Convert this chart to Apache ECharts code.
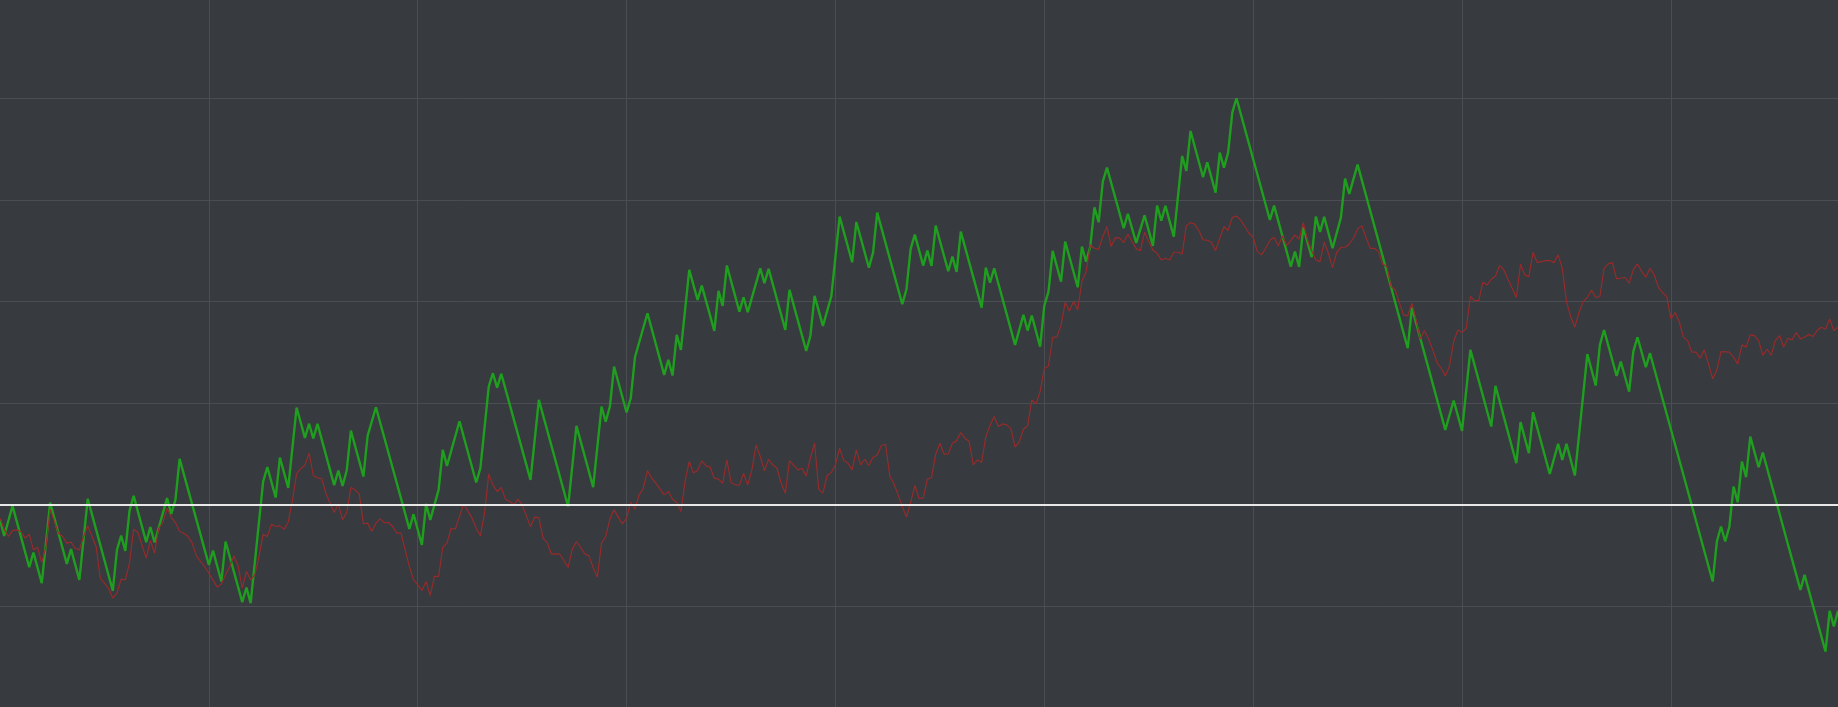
<!DOCTYPE html>
<html>
<head>
<meta charset="utf-8">
<style>
html,body{margin:0;padding:0;background:#373a3e;overflow:hidden;width:1838px;height:707px;position:relative;}
#chart{position:absolute;left:0;top:-3px;width:1838px;height:711px;}
</style>
<script src="https://cdn.jsdelivr.net/npm/echarts@6/dist/echarts.min.js"></script>
</head>
<body>
<div id="chart"></div>
<script>
// x ticks every 50 steps, y ticks every 10 units; baseline at 0
var xTickStep = 50;
var yTickStep = 10;
var baselineValue = 0;

// Green series: vertices (step index, value)
var greenIdx = [0,1,3,7,8,10,12,16,17,19,21,27,28,29,30,31,32,35,36,37,40,41,42,43,50,51,53,54,58,59,60,63,64,66,67,69,71,73,74,75,76,80,81,82,83,84,87,88,90,98,99,101,102,103,105,106,107,110,114,115,117,118,119,120,127,129,136,138,142,144,145,146,147,150,151,152,155,159,160,161,162,163,165,167,168,171,172,173,174,177,178,179,182,183,184,188,189,193,194,195,197,199,201,204,205,208,209,210,216,217,218,219,221,222,223,224,227,228,229,230,235,236,237,238,243,245,246,247,249,250,251,252,254,255,258,259,260,261,262,263,264,265,269,270,272,274,276,277,278,279,281,283,284,285,288,289,291,292,293,294,295,296,304,305,309,310,311,312,314,315,316,317,319,321,322,323,325,337,338,346,348,350,352,357,358,363,364,366,367,371,373,374,375,377,380,382,383,384,387,388,390,391,392,394,395,410,411,412,413,414,415,416,417,418,419,421,422,431,432,437,438,439,440];
var greenVal = [-1.48,-3.05,-0.10,-6.13,-4.69,-7.71,0.23,-5.81,-4.36,-7.38,0.59,-8.46,-4.43,-3.02,-4.53,-0.59,0.89,-3.67,-2.19,-3.71,0.66,-0.89,0.49,4.53,-5.91,-4.50,-7.55,-3.61,-9.58,-8.14,-9.68,2.30,3.71,0.72,4.66,1.67,9.58,6.59,7.99,6.53,7.97,1.94,3.38,1.87,3.38,7.31,2.79,6.79,9.61,-2.36,-0.92,-3.94,0.10,-1.48,1.48,5.41,3.84,8.23,2.20,3.61,11.65,12.96,11.55,12.89,2.46,10.33,-0.16,7.78,1.74,9.68,8.20,9.68,13.62,9.09,10.50,14.53,18.86,12.80,14.27,12.73,16.73,15.26,23.13,20.18,21.59,17.13,21.06,19.59,23.56,19.03,20.44,18.96,23.29,21.82,23.23,17.22,21.16,15.16,16.63,20.57,17.62,20.51,28.38,23.88,27.85,23.36,24.83,28.77,19.75,21.23,25.20,26.61,23.56,25.03,23.52,27.49,23.00,24.44,22.94,26.90,19.42,23.36,21.88,23.29,15.75,18.70,17.16,18.64,15.58,19.62,21.00,25.00,21.98,25.92,21.42,25.43,23.95,25.43,29.30,27.82,31.82,33.20,27.23,28.64,25.80,28.50,25.50,29.46,27.99,29.43,26.41,34.35,32.87,36.81,32.25,33.73,30.74,34.68,33.20,34.68,38.62,40.03,28.05,29.46,23.46,24.93,23.43,27.33,24.38,28.38,26.87,28.35,25.26,28.28,32.12,30.61,33.50,15.42,19.42,7.38,10.27,7.28,15.26,7.71,11.71,4.10,8.14,5.09,9.12,3.05,6.00,4.43,6.00,2.89,14.83,11.75,15.75,17.22,12.70,14.11,11.15,15.09,16.50,13.55,14.93,-7.55,-3.61,-2.13,-3.61,-2.13,1.80,0.26,4.27,2.72,6.73,3.71,5.15,-8.37,-6.89,-14.44,-10.43,-11.98,-10.43];

// Red series: vertices (step index, value)
var redIdx = [0,1,2,3,4,5,6,7,8,9,10,11,12,14,15,16,17,18,19,20,21,23,24,26,27,28,29,30,31,32,33,35,36,37,38,39,40,41,42,43,44,45,46,47,49,50,52,53,54,55,56,57,58,59,60,61,62,63,64,65,66,67,68,69,70,71,72,73,74,75,76,77,78,80,81,82,83,84,85,86,87,88,89,90,91,92,93,94,95,96,97,98,99,100,101,102,103,104,105,106,107,108,109,111,113,114,115,116,117,118,119,120,121,122,123,124,125,127,128,129,130,131,132,133,134,135,136,137,138,139,140,141,142,143,144,145,146,147,149,150,151,152,153,154,155,156,157,159,160,161,162,163,164,165,166,167,168,169,170,171,172,173,174,175,176,177,178,179,180,181,182,183,184,185,186,187,188,189,190,191,192,193,194,195,196,197,198,199,200,201,202,203,204,205,206,207,208,209,210,211,212,213,214,215,216,217,218,219,220,221,222,223,224,225,226,227,228,229,230,231,232,233,234,235,236,237,238,239,240,241,242,243,244,245,246,247,248,249,250,251,252,253,254,255,256,257,258,259,260,261,262,263,264,265,266,267,268,269,270,271,272,273,274,275,276,277,278,279,280,281,282,283,284,285,286,287,288,289,290,291,292,293,294,295,296,297,298,299,300,301,302,303,304,305,306,307,308,309,310,311,312,313,314,315,316,317,318,319,320,321,322,323,324,325,326,327,328,329,330,331,332,333,334,335,336,337,338,339,340,341,342,343,344,345,346,347,348,349,350,351,352,353,354,355,356,357,358,359,360,361,362,363,364,365,366,367,368,369,370,371,372,373,374,375,376,377,378,379,380,381,382,383,384,385,386,387,388,389,390,391,392,393,394,395,396,397,398,399,400,401,402,403,404,405,406,407,408,409,410,411,412,414,415,416,417,418,419,420,421,422,423,424,425,426,427,428,429,430,431,432,433,434,435,436,437,438,439,440];
var redVal = [-1.31,-2.39,-3.12,-2.53,-2.46,-2.62,-3.28,-2.89,-4.43,-4.17,-5.68,-4.10,-0.43,-2.79,-3.12,-3.77,-3.67,-4.27,-4.43,-3.12,-2.07,-4.10,-7.22,-8.20,-9.19,-8.69,-7.32,-7.38,-5.74,-2.39,-2.72,-5.25,-3.51,-4.76,-2.30,-1.71,-0.33,-1.25,-1.74,-2.62,-2.79,-3.12,-3.77,-5.02,-6.07,-6.73,-8.10,-7.78,-6.89,-6.07,-5.02,-6.00,-8.20,-6.56,-7.38,-6.89,-5.09,-2.89,-3.12,-1.90,-2.13,-2.07,-2.39,-1.71,0.43,3.05,3.58,3.90,5.09,2.89,2.66,2.59,1.15,-0.75,0.10,-1.48,-0.75,1.71,1.48,1.08,-1.87,-1.80,-2.62,-1.80,-1.38,-1.74,-1.74,-2.13,-2.79,-2.79,-4.43,-6.07,-7.38,-7.87,-8.43,-7.55,-8.92,-7.05,-7.05,-4.17,-3.77,-2.30,-2.39,0.10,-1.31,-2.30,-3.05,-0.82,3.05,1.97,1.31,1.71,0.56,0.33,0.00,0.56,0.00,-2.13,-1.21,-1.25,-3.28,-3.71,-4.86,-4.82,-4.86,-5.48,-6.17,-4.36,-3.61,-4.20,-4.82,-5.02,-6.17,-7.12,-3.77,-3.12,-1.41,-0.49,-1.87,-1.31,0.26,-0.43,0.98,1.64,3.38,2.62,2.13,0.98,1.31,0.56,0.26,-0.66,2.30,4.27,3.15,3.38,4.33,3.84,3.71,2.62,2.53,2.13,4.43,2.20,1.97,1.94,3.08,1.97,3.44,5.91,4.76,3.35,4.49,3.94,3.61,2.13,1.15,4.36,3.90,3.44,3.61,2.85,4.59,6.07,1.54,1.15,2.89,3.18,3.94,5.58,4.36,4.10,3.44,5.41,3.94,4.49,3.87,4.69,4.89,5.84,5.97,2.85,2.07,0.98,-0.16,-1.21,0.23,1.90,0.66,0.66,2.53,2.69,4.99,6.07,4.99,5.02,6.07,6.30,7.12,6.56,6.23,3.94,4.43,4.17,6.73,7.81,8.69,7.71,7.97,7.87,7.48,5.68,6.20,7.45,7.78,10.33,9.94,11.15,13.45,13.68,16.50,16.54,17.65,19.95,19.09,20.01,19.19,22.05,22.90,25.59,25.26,25.16,26.41,27.40,25.43,26.31,26.28,25.82,26.67,25.92,25.23,25.03,26.84,25.92,25.07,24.77,24.11,24.28,24.11,24.87,24.87,24.70,27.49,27.79,27.62,27.00,26.08,26.05,25.85,25.03,26.25,27.40,27.00,28.31,28.44,28.05,27.40,26.74,26.35,24.93,24.61,25.26,26.02,26.35,25.49,26.48,25.52,26.02,26.57,26.15,27.79,26.08,25.03,24.11,23.95,25.85,24.77,23.36,24.87,25.36,25.36,25.69,26.25,27.17,27.49,26.35,25.26,25.26,24.93,23.70,23.46,21.49,21.16,19.91,18.70,18.60,19.85,18.21,16.34,17.16,16.31,15.26,14.01,13.45,12.70,13.68,16.08,17.22,16.96,17.39,20.51,20.11,20.11,21.92,21.65,22.21,22.54,23.56,23.13,22.21,21.33,20.41,23.69,22.64,22.47,24.87,23.85,23.95,24.05,24.05,23.85,24.61,23.29,20.01,18.54,17.49,18.93,20.01,20.41,21.16,20.41,20.51,23.29,23.72,23.85,22.24,22.31,22.41,21.82,23.13,23.72,22.97,22.41,23.29,22.64,21.42,20.90,20.51,18.31,18.93,18.04,16.50,16.17,15.03,15.03,14.44,15.26,13.88,12.40,13.29,15.09,15.03,14.53,13.85,15.75,15.52,16.73,16.67,16.17,14.73,15.32,14.73,16.17,16.67,15.52,16.40,16.24,16.96,16.34,16.50,16.76,16.57,17.16,17.49,17.29,18.31,17.16,17.49];

function pairs(xs, ys){ var out=[]; for(var i=0;i<xs.length;i++){ out.push([xs[i], ys[i]]); } return out; }

var chart = echarts.init(document.getElementById('chart'), null, {renderer:'canvas'});
chart.setOption({
  backgroundColor: '#373a3e',
  animation: false,
  grid: {left: 0, right: 0, top: 0, bottom: 0, containLabel: false},
  xAxis: {
    type: 'value', min: 0, max: 440, interval: xTickStep,
    axisLine: {show: false}, axisTick: {show: false}, axisLabel: {show: false},
    splitLine: {show: true, showMinLine: false, showMaxLine: false, lineStyle: {color: '#4a4d51', width: 1}}
  },
  yAxis: {
    type: 'value', min: -20, max: 50, interval: yTickStep,
    axisLine: {show: false}, axisTick: {show: false}, axisLabel: {show: false},
    splitLine: {show: true, showMinLine: false, showMaxLine: false, lineStyle: {color: '#4a4d51', width: 1}}
  },
  series: [
    {
      type: 'line', name: 'green', data: pairs(greenIdx, greenVal),
      showSymbol: false, symbol: 'none', smooth: false,
      lineStyle: {color: '#1f9e1f', width: 2.4}, z: 2,
      markLine: {
        silent: true, symbol: ['none','none'], label: {show: false},
        lineStyle: {color: '#e8e8e8', width: 2, type: 'solid'},
        data: [{yAxis: baselineValue}]
      }
    },
    {
      type: 'line', name: 'red', data: pairs(redIdx, redVal),
      showSymbol: false, symbol: 'none', smooth: false,
      lineStyle: {color: '#962b2b', width: 1.2}, z: 3
    }
  ]
});
</script>
</body>
</html>
